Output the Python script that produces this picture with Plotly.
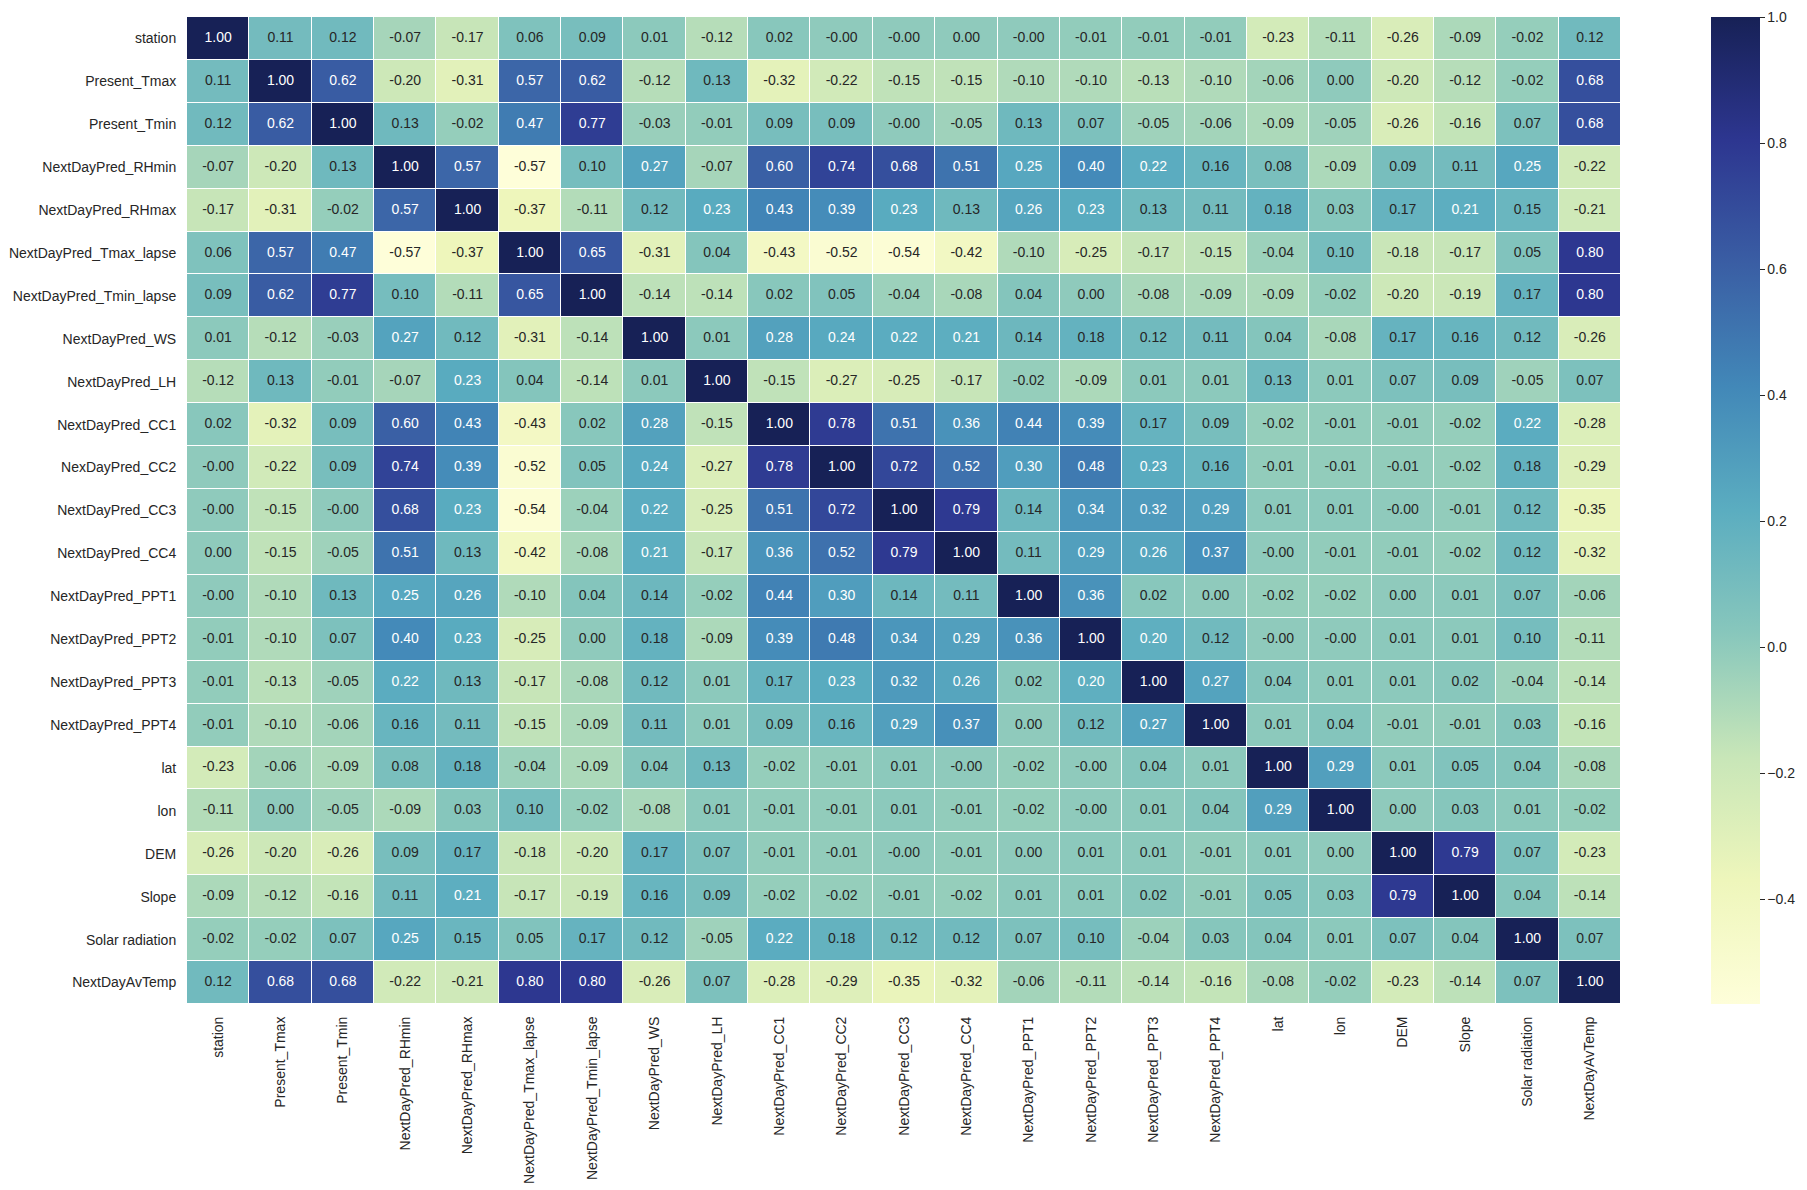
import plotly.graph_objects as go

labels_y = ["station", "Present_Tmax", "Present_Tmin", "NextDayPred_RHmin", "NextDayPred_RHmax",
            "NextDayPred_Tmax_lapse", "NextDayPred_Tmin_lapse", "NextDayPred_WS", "NextDayPred_LH",
            "NextDayPred_CC1", "NexDayPred_CC2", "NextDayPred_CC3", "NextDayPred_CC4",
            "NextDayPred_PPT1", "NextDayPred_PPT2", "NextDayPred_PPT3", "NextDayPred_PPT4",
            "lat", "lon", "DEM", "Slope", "Solar radiation", "NextDayAvTemp"]
labels_x = ["station", "Present_Tmax", "Present_Tmin", "NextDayPred_RHmin", "NextDayPred_RHmax",
            "NextDayPred_Tmax_lapse", "NextDayPred_Tmin_lapse", "NextDayPred_WS", "NextDayPred_LH",
            "NextDayPred_CC1", "NextDayPred_CC2", "NextDayPred_CC3", "NextDayPred_CC4",
            "NextDayPred_PPT1", "NextDayPred_PPT2", "NextDayPred_PPT3", "NextDayPred_PPT4",
            "lat", "lon", "DEM", "Slope", "Solar radiation", "NextDayAvTemp"]

corr = [
    [1.00, 0.11, 0.12, -0.07, -0.17, 0.06, 0.09, 0.01, -0.12, 0.02, -0.0, -0.0, 0.00, -0.0, -0.01, -0.01, -0.01, -0.23, -0.11, -0.26, -0.09, -0.02, 0.12],
    [0.11, 1.00, 0.62, -0.20, -0.31, 0.57, 0.62, -0.12, 0.13, -0.32, -0.22, -0.15, -0.15, -0.10, -0.10, -0.13, -0.10, -0.06, 0.00, -0.20, -0.12, -0.02, 0.68],
    [0.12, 0.62, 1.00, 0.13, -0.02, 0.47, 0.77, -0.03, -0.01, 0.09, 0.09, -0.0, -0.05, 0.13, 0.07, -0.05, -0.06, -0.09, -0.05, -0.26, -0.16, 0.07, 0.68],
    [-0.07, -0.20, 0.13, 1.00, 0.57, -0.57, 0.10, 0.27, -0.07, 0.60, 0.74, 0.68, 0.51, 0.25, 0.40, 0.22, 0.16, 0.08, -0.09, 0.09, 0.11, 0.25, -0.22],
    [-0.17, -0.31, -0.02, 0.57, 1.00, -0.37, -0.11, 0.12, 0.23, 0.43, 0.39, 0.23, 0.13, 0.26, 0.23, 0.13, 0.11, 0.18, 0.03, 0.17, 0.21, 0.15, -0.21],
    [0.06, 0.57, 0.47, -0.57, -0.37, 1.00, 0.65, -0.31, 0.04, -0.43, -0.52, -0.54, -0.42, -0.10, -0.25, -0.17, -0.15, -0.04, 0.10, -0.18, -0.17, 0.05, 0.80],
    [0.09, 0.62, 0.77, 0.10, -0.11, 0.65, 1.00, -0.14, -0.14, 0.02, 0.05, -0.04, -0.08, 0.04, 0.00, -0.08, -0.09, -0.09, -0.02, -0.20, -0.19, 0.17, 0.80],
    [0.01, -0.12, -0.03, 0.27, 0.12, -0.31, -0.14, 1.00, 0.01, 0.28, 0.24, 0.22, 0.21, 0.14, 0.18, 0.12, 0.11, 0.04, -0.08, 0.17, 0.16, 0.12, -0.26],
    [-0.12, 0.13, -0.01, -0.07, 0.23, 0.04, -0.14, 0.01, 1.00, -0.15, -0.27, -0.25, -0.17, -0.02, -0.09, 0.01, 0.01, 0.13, 0.01, 0.07, 0.09, -0.05, 0.07],
    [0.02, -0.32, 0.09, 0.60, 0.43, -0.43, 0.02, 0.28, -0.15, 1.00, 0.78, 0.51, 0.36, 0.44, 0.39, 0.17, 0.09, -0.02, -0.01, -0.01, -0.02, 0.22, -0.28],
    [-0.0, -0.22, 0.09, 0.74, 0.39, -0.52, 0.05, 0.24, -0.27, 0.78, 1.00, 0.72, 0.52, 0.30, 0.48, 0.23, 0.16, -0.01, -0.01, -0.01, -0.02, 0.18, -0.29],
    [-0.0, -0.15, -0.0, 0.68, 0.23, -0.54, -0.04, 0.22, -0.25, 0.51, 0.72, 1.00, 0.79, 0.14, 0.34, 0.32, 0.29, 0.01, 0.01, -0.0, -0.01, 0.12, -0.35],
    [0.00, -0.15, -0.05, 0.51, 0.13, -0.42, -0.08, 0.21, -0.17, 0.36, 0.52, 0.79, 1.00, 0.11, 0.29, 0.26, 0.37, -0.0, -0.01, -0.01, -0.02, 0.12, -0.32],
    [-0.0, -0.10, 0.13, 0.25, 0.26, -0.10, 0.04, 0.14, -0.02, 0.44, 0.30, 0.14, 0.11, 1.00, 0.36, 0.02, 0.00, -0.02, -0.02, 0.00, 0.01, 0.07, -0.06],
    [-0.01, -0.10, 0.07, 0.40, 0.23, -0.25, 0.00, 0.18, -0.09, 0.39, 0.48, 0.34, 0.29, 0.36, 1.00, 0.20, 0.12, -0.0, -0.0, 0.01, 0.01, 0.10, -0.11],
    [-0.01, -0.13, -0.05, 0.22, 0.13, -0.17, -0.08, 0.12, 0.01, 0.17, 0.23, 0.32, 0.26, 0.02, 0.20, 1.00, 0.27, 0.04, 0.01, 0.01, 0.02, -0.04, -0.14],
    [-0.01, -0.10, -0.06, 0.16, 0.11, -0.15, -0.09, 0.11, 0.01, 0.09, 0.16, 0.29, 0.37, 0.00, 0.12, 0.27, 1.00, 0.01, 0.04, -0.01, -0.01, 0.03, -0.16],
    [-0.23, -0.06, -0.09, 0.08, 0.18, -0.04, -0.09, 0.04, 0.13, -0.02, -0.01, 0.01, -0.0, -0.02, -0.0, 0.04, 0.01, 1.00, 0.29, 0.01, 0.05, 0.04, -0.08],
    [-0.11, 0.00, -0.05, -0.09, 0.03, 0.10, -0.02, -0.08, 0.01, -0.01, -0.01, 0.01, -0.01, -0.02, -0.0, 0.01, 0.04, 0.29, 1.00, 0.00, 0.03, 0.01, -0.02],
    [-0.26, -0.20, -0.26, 0.09, 0.17, -0.18, -0.20, 0.17, 0.07, -0.01, -0.01, -0.0, -0.01, 0.00, 0.01, 0.01, -0.01, 0.01, 0.00, 1.00, 0.79, 0.07, -0.23],
    [-0.09, -0.12, -0.16, 0.11, 0.21, -0.17, -0.19, 0.16, 0.09, -0.02, -0.02, -0.01, -0.02, 0.01, 0.01, 0.02, -0.01, 0.05, 0.03, 0.79, 1.00, 0.04, -0.14],
    [-0.02, -0.02, 0.07, 0.25, 0.15, 0.05, 0.17, 0.12, -0.05, 0.22, 0.18, 0.12, 0.12, 0.07, 0.10, -0.04, 0.03, 0.04, 0.01, 0.07, 0.04, 1.00, 0.07],
    [0.12, 0.68, 0.68, -0.22, -0.21, 0.80, 0.80, -0.26, 0.07, -0.28, -0.29, -0.35, -0.32, -0.06, -0.11, -0.14, -0.16, -0.08, -0.02, -0.23, -0.14, 0.07, 1.00],
]

cbar_tickvals = [-0.4, -0.2, 0.0, 0.2, 0.4, 0.6, 0.8, 1.0]
cbar_ticktext = ["\u22120.4", "\u22120.2", "0.0", "0.2", "0.4", "0.6", "0.8", "1.0"]

# YlGnBu as used for text-contrast decisions
ylgnbu = ["#ffffd9", "#edf8b1", "#c7e9b4", "#7fcdbb", "#41b6c4", "#1d91c0", "#225ea8", "#253494", "#081d58"]
# YlGnBu as it appears in the reference rendering
ylgnbu_display = ["#fefed9", "#eef6bb", "#c8e6b8", "#88c7bc", "#5badc0", "#4288b8", "#3a5ea4", "#2d3690", "#172156"]
colorscale = [[i / (len(ylgnbu_display) - 1), c] for i, c in enumerate(ylgnbu_display)]

zmin, zmax = -0.566, 1.0
n = len(labels_y)


def hex2rgb(h):
    return [int(h[i:i + 2], 16) / 255 for i in (1, 3, 5)]


def cmap(v):
    t = (v - zmin) / (zmax - zmin)
    t = min(max(t, 0), 1) * (len(ylgnbu) - 1)
    i = min(int(t), len(ylgnbu) - 2)
    f = t - i
    a, b = hex2rgb(ylgnbu[i]), hex2rgb(ylgnbu[i + 1])
    return [a[k] + (b[k] - a[k]) * f for k in range(3)]


def lum(rgb):
    lin = [c / 12.92 if c <= 0.03928 else ((c + 0.055) / 1.055) ** 2.4 for c in rgb]
    return 0.2126 * lin[0] + 0.7152 * lin[1] + 0.0722 * lin[2]


xs, ys, texts, tcolors = [], [], [], []
for r in range(n):
    for c in range(n):
        v = corr[r][c]
        xs.append(c)
        ys.append(r)
        texts.append(f"{v:.2f}")
        tcolors.append("#ffffff" if lum(cmap(v)) <= 0.40 else "#262626")

font_family = "Liberation Sans, Arial, sans-serif"
FS = 14

fig = go.Figure()
fig.add_trace(go.Heatmap(
    z=corr, x=list(range(n)), y=list(range(n)),
    colorscale=colorscale, zmin=zmin, zmax=zmax,
    xgap=1, ygap=1,
    colorbar=dict(
        x=1.0628, xanchor="left", xref="paper", xpad=0,
        y=0.5, yanchor="middle", len=1.0, lenmode="fraction", ypad=0,
        thickness=49, outlinewidth=0,
        tickvals=cbar_tickvals, ticktext=cbar_ticktext,
        ticks="outside", ticklen=5, tickwidth=1.2, tickcolor="#262626",
        tickfont=dict(family=font_family, size=FS, color="#262626"),
    ),
    hoverinfo="skip",
))
fig.add_trace(go.Scatter(
    x=xs, y=ys, mode="text", text=texts,
    textfont=dict(family=font_family, size=FS, color=tcolors),
    hoverinfo="skip", showlegend=False,
))

fig.update_layout(
    width=1807, height=1190,
    margin=dict(l=187, r=186, t=17, b=186, autoexpand=False),
    paper_bgcolor="white", plot_bgcolor="white",
    showlegend=False,
)
fig.update_xaxes(
    range=[-0.5, n - 0.5], tickmode="array", tickvals=list(range(n)), ticktext=labels_x,
    tickangle=-90, ticks="outside", ticklen=6, tickcolor="rgba(0,0,0,0)",
    showgrid=False, zeroline=False, showline=False,
    tickfont=dict(family=font_family, size=FS, color="#262626"),
)
fig.update_yaxes(
    range=[n - 0.5, -0.5], tickmode="array", tickvals=list(range(n)), ticktext=labels_y,
    ticks="outside", ticklen=7, tickcolor="rgba(0,0,0,0)",
    showgrid=False, zeroline=False, showline=False,
    tickfont=dict(family=font_family, size=FS, color="#262626"),
)

fig.write_html("out.html")
